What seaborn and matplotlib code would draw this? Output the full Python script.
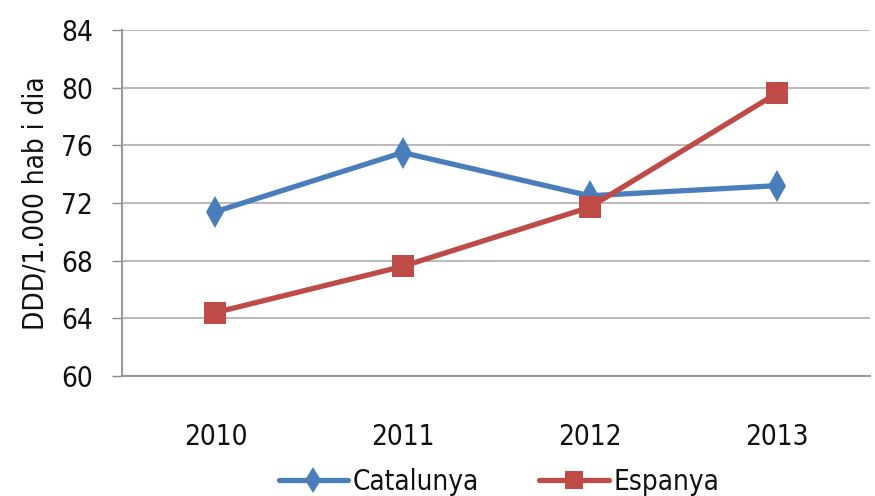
import pandas as pd
import numpy as np
import matplotlib.pyplot as plt
import seaborn as sns
from matplotlib.ticker import FixedLocator

years = ['2010', '2011', '2012', '2013']
catalunya = [71.4, 75.5, 72.5, 73.2]
espanya = [64.4, 67.6, 71.7, 79.6]
yticks = [60, 64, 68, 72, 76, 80, 84]

df = pd.DataFrame({
    'pos': list(range(len(years))) * 2,
    'valor': catalunya + espanya,
    'serie': ['Catalunya'] * len(years) + ['Espanya'] * len(years),
})

sns.set_style('white')
plt.rcParams['font.family'] = ['DejaVu Sans']
plt.rcParams['font.stretch'] = 'condensed'
plt.rcParams['text.color'] = '#111111'
plt.rcParams['xtick.color'] = '#111111'
plt.rcParams['ytick.color'] = '#111111'

fig = plt.figure(figsize=(8.75, 4.96), dpi=100)
ax = fig.add_axes([0.1394, 0.242, 0.855, 0.6975])

colors = {'Catalunya': '#4A7EBB', 'Espanya': '#BE4B48'}
markers = {'Catalunya': 'd', 'Espanya': 's'}
sns.lineplot(data=df, x='pos', y='valor', hue='serie', style='serie',
             palette=colors, markers=markers, dashes=False, linewidth=3.8,
             markersize=16, markeredgewidth=0, ax=ax)

ax.set_xlim(-0.5, 3.5)
ax.set_ylim(60, 84)
ax.set_yticks(yticks)
ax.set_yticklabels([str(v) for v in yticks], fontsize=20)
ax.set_xticks(range(len(years)))
ax.set_xticklabels(years, fontsize=20)
ax.xaxis.set_minor_locator(FixedLocator([0.5, 1.5, 2.5]))
ax.tick_params(axis='x', which='major', length=0, pad=34)
ax.tick_params(axis='x', which='minor', length=7, color='#888888', width=1)
ax.tick_params(axis='y', length=7, color='#888888', labelcolor='#111111',
               width=1, left=True, pad=14)

ax.grid(axis='y', color='#BBBBBB', linewidth=1.5)
ax.set_axisbelow(True)
for s in ['top', 'right']:
    ax.spines[s].set_visible(False)
for s in ['left', 'bottom']:
    ax.spines[s].set_color('#999999')
    ax.spines[s].set_linewidth(1.5)

ax.set_xlabel('')
ax.set_ylabel('DDD/1.000 hab i dia', fontsize=20, labelpad=8, color='#111111')

handles, labels = ax.get_legend_handles_labels()
ax.legend(handles, labels, loc='lower center', bbox_to_anchor=(0.57, -0.005),
          bbox_transform=fig.transFigure, ncol=2, frameon=False, fontsize=20,
          handlelength=2.5, handletextpad=0.15, columnspacing=2.2,
          borderaxespad=0, borderpad=0.1, markerscale=0.8)

fig.savefig('out.png', dpi=100)
